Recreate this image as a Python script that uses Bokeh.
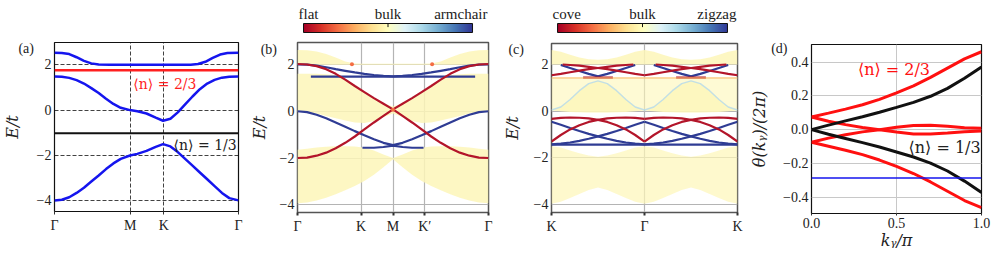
import numpy as np
from bokeh.plotting import figure
from bokeh.layouts import row, column
from bokeh.models import Range1d, FixedTicker, Label, Span, LinearColorMapper
from bokeh.embed import file_html
from bokeh.resources import INLINE

# ---------------- data: panel (a) ----------------
a_tick_pos = [0.0, 0.412, 0.594, 1.0]
a_tick_lbl = ["Γ", "M", "K", "Γ"]
a_k_top = [0.0, 0.04, 0.08, 0.12, 0.16, 0.2, 0.24, 0.3, 0.41, 0.59, 0.74, 0.78, 0.82, 0.86, 0.9, 0.94, 1.0]
a_e_top = [2.53, 2.52, 2.47, 2.33, 2.17, 2.06, 2.01, 2.0, 2.0, 2.0, 2.0, 2.03, 2.13, 2.3, 2.45, 2.52, 2.53]
a_k = [0.0, 0.04, 0.08, 0.12, 0.16, 0.2, 0.24, 0.28, 0.32, 0.36, 0.41, 0.45, 0.5, 0.55, 0.59,
       0.63, 0.67, 0.71, 0.75, 0.79, 0.83, 0.87, 0.91, 0.95, 1.0]
a_e_mid = [1.48, 1.47, 1.42, 1.32, 1.17, 0.97, 0.75, 0.5, 0.27, 0.1, 0.0, -0.05, -0.15, -0.33, -0.47,
           -0.38, -0.1, 0.25, 0.6, 0.92, 1.17, 1.33, 1.43, 1.47, 1.48]
a_e_low = [-3.98, -3.95, -3.84, -3.65, -3.42, -3.15, -2.88, -2.6, -2.35, -2.15, -2.0, -1.93, -1.8, -1.62, -1.5,
           -1.6, -1.85, -2.15, -2.45, -2.75, -3.05, -3.35, -3.65, -3.88, -3.98]
a_level_23 = 1.76
a_level_13 = -1.02

e_ticks = [-4, -2, 0, 2]
e_tick_lbl = ["−4", "−2", "0", "2"]

# panel letters (beside the top of each frame) and the level they sit at
letters = ["(a)", "(b)", "(c)", "(d)"]
letter_level = [2.74, 2.66, 2.64, 0.495]

# ---------------- data: panel (b) ----------------
b_tick_pos = [0.0, 1 / 3, 0.5, 2 / 3, 1.0]
b_tick_lbl = ["Γ", "K", "M", "K′", "Γ"]
b_t = [0.0, 0.05, 0.1, 0.15, 0.2, 0.25, 0.3, 0.35, 0.4, 0.45, 0.5,
       0.55, 0.6, 0.65, 0.7, 0.75, 0.8, 0.85, 0.9, 0.95, 1.0]
b_top_hi = [2.62, 2.61, 2.56, 2.45, 2.3, 2.13, 2.04, 2.03, 2.03, 2.03, 2.03,
            2.03, 2.03, 2.03, 2.04, 2.13, 2.3, 2.45, 2.56, 2.61, 2.62]
b_top_lo = [1.99, 1.99, 1.99, 1.99, 1.99, 1.99, 1.99, 1.99, 1.99, 1.99, 1.99,
            1.99, 1.99, 1.99, 1.99, 1.99, 1.99, 1.99, 1.99, 1.99, 1.99]
b_mid_hi = [1.6, 1.6, 1.6, 1.58, 1.55, 1.33, 1.06, 0.8, 0.55, 0.33, 0.2,
            0.33, 0.55, 0.8, 1.06, 1.33, 1.55, 1.58, 1.6, 1.6, 1.6]
b_mid_lo = [0.0, -0.03, -0.1, -0.2, -0.3, -0.4, -0.48, -0.5, -0.42, -0.25, -0.1,
            -0.25, -0.42, -0.5, -0.48, -0.4, -0.3, -0.2, -0.1, -0.03, 0.0]
b_low_hi = [-1.65, -1.6, -1.55, -1.52, -1.5, -1.5, -1.51, -1.56, -1.68, -1.85, -2.0,
            -1.85, -1.68, -1.56, -1.51, -1.5, -1.5, -1.52, -1.55, -1.6, -1.65]
b_low_lo = [-3.93, -3.9, -3.82, -3.7, -3.55, -3.38, -3.2, -2.98, -2.72, -2.4, -2.05,
            -2.4, -2.72, -2.98, -3.2, -3.38, -3.55, -3.7, -3.82, -3.9, -3.93]
b_red_a = [2.02, 2.0, 1.93, 1.8, 1.6, 1.35, 1.08, 0.82, 0.56, 0.32, 0.08,
           -0.2, -0.48, -0.78, -1.08, -1.35, -1.58, -1.77, -1.9, -1.98, -2.0]
b_red_b = [-2.0, -1.98, -1.9, -1.77, -1.58, -1.35, -1.08, -0.78, -0.48, -0.2, 0.08,
           0.32, 0.56, 0.82, 1.08, 1.35, 1.6, 1.8, 1.93, 2.0, 2.02]
b_blue_u = [2.0, 1.99, 1.95, 1.88, 1.8, 1.73, 1.66, 1.6, 1.55, 1.51, 1.49,
            1.51, 1.55, 1.6, 1.66, 1.73, 1.8, 1.88, 1.95, 1.99, 2.0]
b_blue_d = [0.0, -0.04, -0.15, -0.3, -0.48, -0.66, -0.85, -1.03, -1.2, -1.35, -1.45,
            -1.35, -1.2, -1.03, -0.85, -0.66, -0.48, -0.3, -0.15, -0.04, 0.0]
b_flat_top_t = [0.07, 0.93]
b_flat_top_e = [1.48, 1.48]
b_flat_low_t = [0.34, 0.4, 0.45, 0.5, 0.55, 0.6, 0.66]
b_flat_low_e = [-1.56, -1.56, -1.53, -1.47, -1.53, -1.56, -1.56]
b_spot_t = [0.285, 0.5, 0.705]
b_spot_e = [2.01, 0.06, 2.01]

# ---------------- data: panel (c) ----------------
c_tick_pos = [0.0, 0.5, 1.0]
c_tick_lbl = ["K", "Γ", "K"]
c_t = b_t
c_top_hi = [2.62, 2.55, 2.42, 2.3, 2.23, 2.2, 2.23, 2.3, 2.42, 2.55, 2.62,
            2.55, 2.42, 2.3, 2.23, 2.2, 2.23, 2.3, 2.42, 2.55, 2.62]
c_top_lo = [2.0, 2.0, 2.0, 2.0, 2.0, 2.0, 2.0, 2.0, 2.0, 2.0, 2.0,
            2.0, 2.0, 2.0, 2.0, 2.0, 2.0, 2.0, 2.0, 2.0, 2.0]
c_mid_hi = [1.45, 1.45, 1.45, 1.45, 1.45, 1.45, 1.45, 1.45, 1.45, 1.45, 1.45,
            1.45, 1.45, 1.45, 1.45, 1.45, 1.45, 1.45, 1.45, 1.45, 1.45]
c_hump = [0.05, 0.18, 0.5, 0.88, 1.18, 1.3, 1.18, 0.88, 0.5, 0.18, 0.05,
          0.18, 0.5, 0.88, 1.18, 1.3, 1.18, 0.88, 0.5, 0.18, 0.05]
c_mid_lo = [0.03, 0.0, -0.03, -0.05, -0.06, -0.06, -0.06, -0.05, -0.03, 0.0, 0.03,
            0.0, -0.03, -0.05, -0.06, -0.06, -0.06, -0.05, -0.03, 0.0, 0.03]
c_low_hi = [-1.5, -1.56, -1.68, -1.8, -1.9, -1.95, -1.9, -1.8, -1.68, -1.56, -1.5,
            -1.56, -1.68, -1.8, -1.9, -1.95, -1.9, -1.8, -1.68, -1.56, -1.5]
c_low_lo = [-3.97, -3.88, -3.72, -3.55, -3.38, -3.27, -3.38, -3.55, -3.72, -3.88, -3.97,
            -3.88, -3.72, -3.55, -3.38, -3.27, -3.38, -3.55, -3.72, -3.88, -3.97]
c_r1_t = [[0.0, 0.05, 0.1, 0.15, 0.2, 0.25, 0.3, 0.35, 0.4, 0.44],
          [0.5, 0.55, 0.6, 0.65, 0.7, 0.75, 0.8, 0.85, 0.9, 0.94]]
c_r1_e = [1.54, 1.6, 1.67, 1.74, 1.8, 1.85, 1.9, 1.95, 1.98, 2.0]
c_r2_t = [[0.06, 0.1, 0.15, 0.2, 0.25, 0.3, 0.35, 0.4, 0.45, 0.5],
          [0.56, 0.6, 0.65, 0.7, 0.75, 0.8, 0.85, 0.9, 0.95, 1.0]]
c_r2_e = [2.0, 1.98, 1.95, 1.9, 1.85, 1.8, 1.74, 1.67, 1.6, 1.54]
c_bv_t = [[0.05, 0.1, 0.15, 0.2, 0.25, 0.3, 0.35, 0.4, 0.45],
          [0.55, 0.6, 0.65, 0.7, 0.75, 0.8, 0.85, 0.9, 0.95]]
c_bv_e = [1.98, 1.85, 1.72, 1.6, 1.49, 1.6, 1.72, 1.85, 1.98]
c_rf_t = [[0.17, 0.33], [0.67, 0.83]]
c_rf_e = [1.44, 1.44]
c_half_t = [[0.0, 0.05, 0.1, 0.15, 0.2, 0.25, 0.3, 0.35, 0.4, 0.45, 0.5],
            [0.5, 0.55, 0.6, 0.65, 0.7, 0.75, 0.8, 0.85, 0.9, 0.95, 1.0]]
c_ra_e = [-1.3, -1.02, -0.78, -0.6, -0.46, -0.37, -0.31, -0.28, -0.27, -0.29, -0.33]
c_rb_e = [-0.33, -0.29, -0.27, -0.28, -0.31, -0.37, -0.46, -0.6, -0.78, -1.02, -1.3]
c_ba_e = [-0.45, -0.58, -0.72, -0.85, -0.97, -1.08, -1.18, -1.27, -1.34, -1.39, -1.42]
c_bb_e = [-1.42, -1.39, -1.34, -1.27, -1.18, -1.08, -0.97, -0.85, -0.72, -0.58, -0.45]
c_blue_flat = -1.43
c_orange_level = 1.42

# ---------------- data: panel (d) ----------------
d_tick_x = [0.0, 0.5, 1.0]
d_tick_x_lbl = ["0.0", "0.5", "1.0"]
d_tick_y = [-0.4, -0.2, 0.0, 0.2, 0.4]
d_tick_y_lbl = ["−0.4", "−0.2", "0.0", "0.2", "0.4"]
d_k = [0.0, 0.1, 0.2, 0.3, 0.4, 0.5, 0.6, 0.7, 0.8, 0.9, 1.0]
d_black_up = [0.0, 0.027, 0.052, 0.077, 0.103, 0.132, 0.162, 0.198, 0.245, 0.305, 0.372]
d_black_dn = [0.0, -0.027, -0.052, -0.077, -0.103, -0.132, -0.162, -0.198, -0.245, -0.305, -0.372]
d_red_up = [0.075, 0.098, 0.122, 0.148, 0.18, 0.218, 0.26, 0.31, 0.365, 0.42, 0.462]
d_red_dn = [-0.075, -0.098, -0.122, -0.148, -0.18, -0.218, -0.26, -0.31, -0.365, -0.42, -0.462]
d_red_mid_a = [0.075, 0.05, 0.03, 0.013, 0.0, -0.014, -0.025, -0.026, -0.02, -0.012, -0.008]
d_red_mid_b = [-0.075, -0.05, -0.03, -0.013, 0.0, 0.014, 0.025, 0.026, 0.02, 0.012, 0.008]
d_blue_level = -0.287

# colour bars
cb_b_lbl = ["flat", "bulk", "armchair"]
cb_c_lbl = ["cove", "bulk", "zigzag"]
RDYLBU = ["#a50026", "#d73027", "#f46d43", "#fdae61", "#fee090", "#ffffbf",
          "#e0f3f8", "#abd9e9", "#74add1", "#4575b4", "#313695"]

# ---------------- styling ----------------
FONT = "Liberation Serif"
MFONT = "DejaVu Serif"
RED = "#b3152a"
BLUE = "#2f3c94"
BULK = "#fdf6b8"
TXT = "#222222"
NB = "\u00a0"
TOP_H = 40
MAIN_H = 220


def interp_pal(anchors, n=256):
    rgb = np.array([[int(c[i:i + 2], 16) for i in (1, 3, 5)] for c in anchors], float)
    pos = np.linspace(0, 1, len(anchors))
    q = np.linspace(0, 1, n)
    return ["#%02x%02x%02x" % tuple(int(round(np.interp(v, pos, rgb[:, j]))) for j in range(3)) for v in q]


PAL = interp_pal(RDYLBU)


def make_main(width, bl, br, bt, fh, yr, xr=(0.0, 1.0)):
    p = figure(width=width, height=MAIN_H, x_range=Range1d(*xr), y_range=Range1d(*yr),
               output_backend="svg", toolbar_location=None,
               min_border_left=bl, min_border_right=br, min_border_top=bt,
               min_border_bottom=MAIN_H - bt - fh)
    for ax in (p.xaxis[0], p.yaxis[0]):
        ax.axis_line_color = None
        ax.major_tick_in = 0
        ax.major_tick_out = 3
        ax.major_tick_line_color = "#333333"
        ax.minor_tick_line_color = None
        ax.major_label_text_font = FONT
        ax.major_label_text_font_size = "14px"
        ax.major_label_text_color = TXT
        ax.major_label_standoff = 3
        ax.axis_label_text_font = MFONT
        ax.axis_label_text_font_style = "italic"
        ax.axis_label_text_font_size = "16px"
        ax.axis_label_text_color = TXT
    p.yaxis.major_tick_out = 0
    return p


def set_x_ticks(p, pos, lbl):
    p.xaxis.ticker = FixedTicker(ticks=list(pos))
    p.xaxis.major_label_overrides = {k: v for k, v in zip(pos, lbl)}
    p.xgrid.ticker = FixedTicker(ticks=list(pos))


def set_y_ticks(p, pos, lbl, letter, level, pad):
    p.yaxis.ticker = FixedTicker(ticks=list(pos) + [level])
    ov = {k: v for k, v in zip(pos, lbl)}
    ov[level] = letter + NB * pad
    p.yaxis.major_label_overrides = ov
    p.ygrid.ticker = FixedTicker(ticks=list(pos))


def top_fig(width, bl, br, labels=None, xr=(-1.0, 1.0)):
    p = figure(width=width, height=TOP_H, x_range=Range1d(*xr), y_range=Range1d(-8 / 9, 32 / 9),
               output_backend="svg", toolbar_location=None,
               x_axis_location=None, y_axis_location=None,
               min_border_left=bl, min_border_right=br, min_border_top=0, min_border_bottom=0)
    p.grid.visible = False
    p.outline_line_color = None
    if labels is None:
        return p
    grad = np.linspace(-1, 1, 256).reshape(1, -1)
    p.image(image=[grad], x=-1, y=0, dw=2, dh=1,
            color_mapper=LinearColorMapper(palette=PAL, low=-1, high=1))
    p.quad(left=-1, right=1, bottom=0, top=1, fill_color=None, line_color="#111111", line_width=1)
    p.segment(x0=[0], y0=[0.6], x1=[0], y1=[1.0], line_color="#111111", line_width=1)
    kw = dict(text_font=FONT, text_font_size="15px", text_color=TXT, text_baseline="top", y=2.9)
    p.add_layout(Label(x=1, x_units="screen", text=labels[0], text_align="left", **kw))
    p.add_layout(Label(x=0, text=labels[1], text_align="center", **kw))
    p.add_layout(Label(x=width - bl - br - 1, x_units="screen", text=labels[2], text_align="right", **kw))
    return p


# ---------------- panel (a) ----------------
pa = make_main(243, 51, 5, 2, 169, (-4.47, 2.98))
set_x_ticks(pa, a_tick_pos, a_tick_lbl)
set_y_ticks(pa, e_ticks, e_tick_lbl, letters[0], letter_level[0], 5)
pa.yaxis.axis_label = "E/t"
pa.yaxis.axis_label_standoff = -7
pa.grid.grid_line_color = "#111111"
pa.grid.grid_line_dash = "4 2"
pa.grid.grid_line_width = 0.8
pa.outline_line_color = "#111111"
pa.outline_line_width = 1.2
pa.add_layout(Span(location=a_level_13, dimension="width", line_color="#111111", line_width=2))
pa.add_layout(Span(location=a_level_23, dimension="width", line_color="#ff1f1f", line_width=2.5))
pa.line(a_k_top, a_e_top, line_color="#1515ee", line_width=2.5)
pa.line(a_k, a_e_mid, line_color="#1515ee", line_width=2.5)
pa.line(a_k, a_e_low, line_color="#1515ee", line_width=2.5)
pa.add_layout(Label(x=0.6, y=1.17, text="⟨n⟩ = 2/3", text_font=MFONT, text_font_size="14px",
                    text_color="#ff1f1f", text_align="center", text_baseline="middle"))
pa.add_layout(Label(x=0.99, y=-1.54, text="⟨n⟩ = 1/3", text_font=MFONT, text_font_size="14px",
                    text_color=TXT, text_align="right", text_baseline="middle"))

# ---------------- panel (b) ----------------
pb = make_main(254, 54, 9, 2, 170, (-4.33, 2.94))
set_x_ticks(pb, b_tick_pos, b_tick_lbl)
set_y_ticks(pb, e_ticks, e_tick_lbl, letters[1], letter_level[1], 5)
pb.xaxis.major_tick_line_width = 2
pb.yaxis.axis_label = "E/t"
pb.yaxis.axis_label_standoff = -11
pb.grid.grid_line_color = "#b4b4b4"
pb.grid.grid_line_width = 1.2
pb.outline_line_color = "#555555"
pb.outline_line_width = 1.5
for hi, lo in ((b_top_hi, b_top_lo), (b_mid_hi, b_mid_lo), (b_low_hi, b_low_lo)):
    pb.varea(x=b_t, y1=lo, y2=hi, fill_color=BULK, fill_alpha=0.85)
pb.multi_line(xs=[b_t, b_t], ys=[b_blue_u, b_blue_d], line_color=BLUE, line_width=2.2)
pb.line(b_flat_top_t, b_flat_top_e, line_color=BLUE, line_width=2.2)
pb.line(b_flat_low_t, b_flat_low_e, line_color=BLUE, line_width=2.2)
pb.multi_line(xs=[b_t, b_t], ys=[b_red_a, b_red_b], line_color=RED, line_width=2.2)
pb.scatter(b_spot_t, b_spot_e, size=4, fill_color="#f46d43", line_color=None)

# ---------------- panel (c) ----------------
pc = make_main(250, 54, 10, 3, 169, (-4.34, 2.9))
set_x_ticks(pc, c_tick_pos, c_tick_lbl)
set_y_ticks(pc, e_ticks, e_tick_lbl, letters[2], letter_level[2], 7)
pc.xaxis.major_tick_line_width = 2
pc.yaxis.axis_label = "E/t"
pc.yaxis.axis_label_standoff = -17
pc.grid.grid_line_color = "#b4b4b4"
pc.grid.grid_line_width = 1.2
pc.outline_line_color = "#555555"
pc.outline_line_width = 1.5
pc.varea(x=c_t, y1=c_top_lo, y2=c_top_hi, fill_color=BULK, fill_alpha=0.85)
pc.varea(x=c_t, y1=c_hump, y2=c_mid_hi, fill_color=BULK, fill_alpha=0.6)
pc.varea(x=c_t, y1=c_mid_lo, y2=c_hump, fill_color=BULK, fill_alpha=0.9)
pc.varea(x=c_t, y1=c_low_lo, y2=c_low_hi, fill_color=BULK, fill_alpha=0.7)
pc.line(c_t, c_hump, line_color="#b3d8ea", line_width=1.4, line_alpha=0.8)
pc.add_layout(Span(location=c_orange_level, dimension="width", line_color="#fbc27a",
                   line_width=1.5, line_alpha=0.8))
pc.add_layout(Span(location=c_blue_flat, dimension="width", line_color=BLUE, line_width=2.2))
pc.multi_line(xs=c_bv_t, ys=[c_bv_e, c_bv_e], line_color=BLUE, line_width=2.2)
pc.multi_line(xs=c_half_t + c_half_t, ys=[c_ba_e, c_ba_e, c_bb_e, c_bb_e], line_color=BLUE, line_width=2.2)
pc.multi_line(xs=c_r1_t + c_r2_t, ys=[c_r1_e, c_r1_e, c_r2_e, c_r2_e], line_color=RED, line_width=2.2)
pc.multi_line(xs=c_rf_t, ys=[c_rf_e, c_rf_e], line_color=RED, line_width=2.4)
pc.multi_line(xs=c_half_t + c_half_t, ys=[c_ra_e, c_ra_e, c_rb_e, c_rb_e], line_color=RED, line_width=2.2)

# ---------------- panel (d) ----------------
pd_ = make_main(250, 63, 16, 4, 169, (-0.497, 0.505))
set_x_ticks(pd_, d_tick_x, d_tick_x_lbl)
set_y_ticks(pd_, d_tick_y, d_tick_y_lbl, letters[3], letter_level[3], 6)
pd_.yaxis.axis_label = "θ(kᵧ)/(2π)"
pd_.yaxis.axis_label_standoff = -1
pd_.xaxis.axis_label = "kᵧ/π"
pd_.xaxis.axis_label_standoff = 0
pd_.xaxis.major_tick_out = 2
pd_.xaxis.major_label_standoff = 2
pd_.grid.grid_line_color = "#c8c8c8"
pd_.grid.grid_line_width = 1
pd_.outline_line_color = "#111111"
pd_.outline_line_width = 1.2
pd_.multi_line(xs=[d_k] * 4, ys=[d_red_up, d_red_dn, d_red_mid_a, d_red_mid_b],
               line_color="#ff1010", line_width=3)
pd_.multi_line(xs=[d_k] * 2, ys=[d_black_up, d_black_dn], line_color="#111111", line_width=3)
pd_.add_layout(Span(location=d_blue_level, dimension="width", line_color="#1515ee", line_width=1.5))
pd_.add_layout(Label(x=0.485, y=0.357, text="⟨n⟩ = 2/3", text_font=MFONT, text_font_size="16px",
                     text_color="#ff1010", text_align="center", text_baseline="middle"))
pd_.add_layout(Label(x=0.995, y=-0.106, text="⟨n⟩ = 1/3", text_font=MFONT, text_font_size="16px",
                     text_color=TXT, text_align="right", text_baseline="middle"))

# top strips (colour bars above (b) and (c); empty above (a) and (d))
ta = top_fig(243, 51, 5)
tb = top_fig(254, 54, 9, cb_b_lbl, xr=(-1.071, 1.189))
tc = top_fig(250, 54, 10, cb_c_lbl, xr=(-1.071, 1.118))
td = top_fig(250, 63, 16)

layout = row(column(ta, pa), column(tb, pb), column(tc, pc), column(td, pd_))
open("out.html", "w").write(file_html(layout, INLINE))
